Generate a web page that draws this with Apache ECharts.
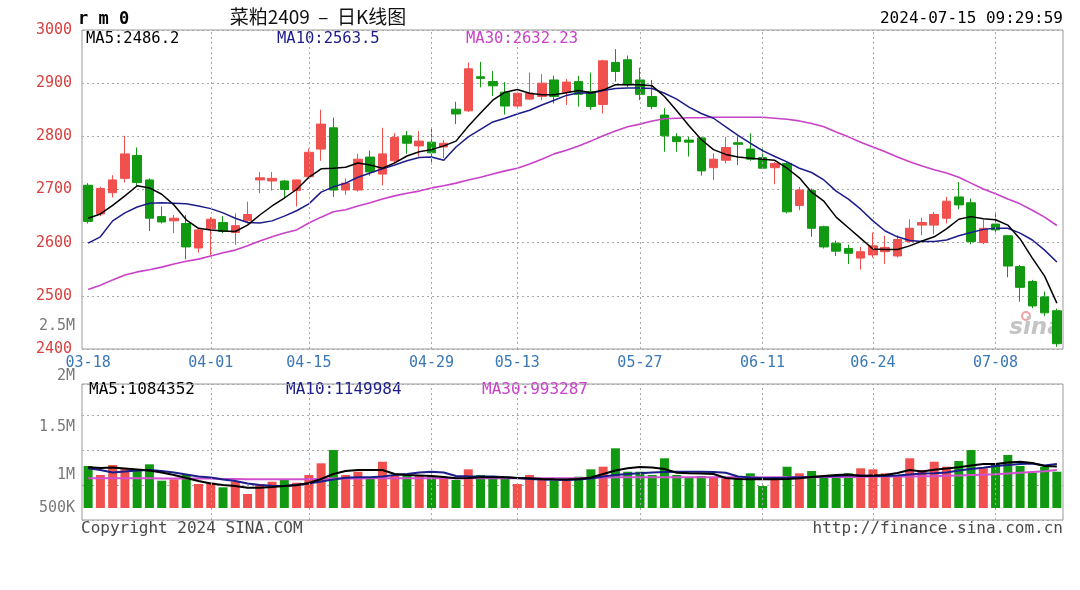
<!DOCTYPE html>
<html><head><meta charset="utf-8">
<script src="https://cdn.jsdelivr.net/npm/echarts@6/dist/echarts.min.js"></script>
<style>html,body{margin:0;padding:0;background:#fff;}#c{width:1080px;height:590px;}</style>
</head><body><div id="c"></div>
<script>
// ---------- data ----------
const dates = [
'03-18','03-19','03-20','03-21','03-22','03-25','03-26','03-27','03-28','03-29',
'04-01','04-02','04-03','04-08','04-09','04-10','04-11','04-12','04-15','04-16',
'04-17','04-18','04-19','04-22','04-23','04-24','04-25','04-26','04-29','04-30',
'05-06','05-07','05-08','05-09','05-10','05-13','05-14','05-15','05-16','05-17',
'05-20','05-21','05-22','05-23','05-24','05-27','05-28','05-29','05-30','05-31',
'06-03','06-04','06-05','06-06','06-07','06-11','06-12','06-13','06-14','06-17',
'06-18','06-19','06-20','06-21','06-24','06-25','06-26','06-27','06-28','07-01',
'07-02','07-03','07-04','07-05','07-08','07-09','07-10','07-11','07-12','07-15'];
const open  = [2708,2654,2694,2721,2764,2718,2649,2641,2636,2590, 2626,2638,2619,2641,2718,2716,2716,2698,2724,2776,
               2816,2699,2699,2761,2729,2754,2801,2782,2789,2780, 2851,2848,2912,2903,2883,2857,2870,2875,2906,2883,
               2903,2884,2860,2939,2944,2906,2875,2840,2799,2793, 2797,2741,2755,2788,2776,2760,2741,2749,2670,2698,
               2630,2599,2589,2571,2577,2583,2575,2602,2633,2633, 2646,2686,2675,2600,2635,2613,2555,2527,2498,2472];
const high  = [2712,2705,2727,2801,2779,2721,2668,2652,2652,2627, 2648,2650,2655,2677,2733,2733,2718,2719,2777,2850,
               2835,2721,2767,2773,2816,2806,2810,2810,2814,2793, 2865,2939,2940,2923,2902,2884,2920,2917,2914,2908,
               2914,2920,2944,2964,2952,2929,2906,2853,2806,2799, 2799,2768,2799,2800,2806,2780,2752,2752,2705,2702,
               2632,2604,2596,2592,2619,2613,2614,2644,2647,2658, 2686,2714,2683,2643,2658,2614,2558,2530,2508,2476];
const low   = [2636,2650,2685,2713,2707,2622,2636,2618,2569,2581, 2577,2618,2596,2636,2693,2698,2683,2668,2721,2754,
               2686,2690,2696,2726,2708,2749,2767,2762,2747,2759, 2823,2846,2892,2876,2841,2853,2868,2868,2862,2859,
               2856,2850,2843,2903,2893,2868,2851,2771,2771,2762, 2726,2718,2749,2746,2754,2739,2710,2655,2661,2611,
               2589,2575,2560,2549,2572,2560,2572,2600,2614,2616, 2636,2663,2597,2597,2616,2535,2489,2477,2462,2404];
const close = [2640,2702,2718,2767,2713,2646,2639,2646,2592,2624, 2644,2621,2632,2653,2722,2721,2700,2718,2770,2823,
               2699,2712,2757,2733,2767,2798,2787,2791,2769,2787, 2842,2927,2909,2895,2857,2881,2881,2900,2875,2902,
               2879,2856,2942,2922,2897,2879,2856,2801,2790,2789, 2735,2757,2779,2785,2757,2740,2749,2658,2699,2627,
               2592,2584,2580,2583,2594,2591,2606,2627,2638,2653, 2678,2671,2602,2627,2624,2556,2516,2481,2468,2410];
const ma5   = [2646,2654,2670,2688,2707,2703,2691,2671,2643,2627, 2624,2622,2621,2633,2652,2669,2684,2700,2723,2739,
               2740,2742,2750,2746,2740,2750,2763,2771,2775,2782, 2791,2819,2844,2868,2883,2888,2881,2878,2878,2882,
               2886,2882,2887,2897,2897,2897,2895,2875,2848,2820, 2794,2775,2766,2761,2759,2757,2755,2740,2722,2695,
               2678,2648,2628,2608,2588,2587,2587,2594,2603,2611, 2626,2644,2649,2645,2643,2633,2607,2571,2537,2486.2];
const ma10  = [2599,2611,2641,2656,2667,2674,2675,2674,2673,2669, 2664,2656,2646,2638,2637,2641,2650,2660,2673,2695,
               2705,2712,2723,2731,2739,2746,2754,2760,2761,2755, 2780,2799,2813,2827,2834,2842,2849,2859,2868,2877,
               2882,2881,2886,2890,2891,2891,2890,2881,2870,2855, 2843,2834,2818,2802,2787,2773,2762,2752,2740,2732,
               2718,2697,2682,2663,2641,2622,2611,2604,2602,2602, 2605,2613,2619,2625,2627,2627,2618,2605,2586,2563.5];
const ma30  = [2512,2520,2530,2539,2545,2549,2554,2560,2565,2569, 2575,2581,2586,2594,2603,2611,2618,2624,2637,2648,
               2658,2662,2669,2675,2682,2688,2693,2697,2703,2707, 2712,2718,2723,2729,2735,2740,2748,2757,2767,2774,
               2782,2791,2801,2810,2818,2823,2829,2833,2834,2835, 2835,2836,2836,2836,2836,2836,2834,2832,2829,2824,
               2818,2808,2799,2789,2780,2771,2761,2752,2744,2737, 2731,2723,2712,2701,2692,2682,2673,2661,2648,2632.23];
// volume in millions of lots
const volume = [1.097,0.862,1.123,1.037,0.992,1.141,0.713,0.749,0.862,0.627, 0.661,0.540,0.687,0.366,0.627,0.687,0.757,0.661,0.862,1.167,
                1.514,0.862,0.948,0.802,1.209,0.858,0.866,0.862,0.817,0.802, 0.731,1.010,0.862,0.775,0.802,0.627,0.862,0.749,0.713,0.705,
                0.817,1.010,1.078,1.559,0.948,0.948,0.862,1.298,0.862,0.802, 0.836,0.802,0.775,0.817,0.906,0.574,0.731,1.078,0.906,0.966,
                0.836,0.862,0.906,1.037,1.010,0.906,0.862,1.298,0.992,1.209, 1.078,1.227,1.514,1.037,1.167,1.384,1.097,0.922,1.078,0.948];
const volMa5  = [1.063,1.044,1.057,1.031,1.005,0.979,0.927,0.862,0.783,0.705, 0.640,0.601,0.574,0.530,0.530,0.548,0.574,0.593,0.653,0.757,
                 0.888,0.966,0.992,0.992,0.992,0.888,0.862,0.849,0.836,0.809, 0.775,0.783,0.802,0.802,0.802,0.783,0.775,0.757,0.749,0.744,
                 0.757,0.796,0.888,0.979,1.037,1.070,1.057,1.018,0.922,0.909, 0.901,0.888,0.783,0.757,0.749,0.749,0.749,0.757,0.775,0.809,
                 0.836,0.862,0.875,0.836,0.849,0.862,0.914,0.992,0.953,1.000, 1.031,1.063,1.110,1.149,1.149,1.188,1.209,1.175,1.097,1.084352];
const volMa10 = [1.037,0.992,0.927,0.953,0.979,0.992,0.966,0.927,0.875,0.822, 0.796,0.744,0.705,0.640,0.601,0.582,0.574,0.608,0.640,0.692,
                 0.744,0.791,0.802,0.802,0.822,0.862,0.888,0.927,0.948,0.927, 0.836,0.827,0.822,0.822,0.804,0.783,0.757,0.744,0.736,0.731,
                 0.744,0.770,0.822,0.862,0.888,0.906,0.927,0.940,0.948,0.948, 0.948,0.940,0.922,0.822,0.796,0.775,0.783,0.791,0.802,0.809,
                 0.822,0.836,0.854,0.849,0.836,0.836,0.849,0.875,0.901,0.906, 0.927,0.979,1.018,1.052,1.097,1.123,1.149,1.162,1.110,1.149984];
const volMa30 = [0.78,0.78,0.78,0.78,0.78,0.78,0.77,0.77,0.77,0.77, 0.77,0.76,0.76,0.75,0.75,0.75,0.75,0.75,0.75,0.76,
                 0.77,0.77,0.77,0.78,0.78,0.78,0.78,0.78,0.78,0.78, 0.78,0.78,0.78,0.78,0.78,0.78,0.78,0.78,0.78,0.78,
                 0.78,0.79,0.79,0.80,0.80,0.80,0.80,0.80,0.80,0.80, 0.80,0.80,0.80,0.80,0.80,0.80,0.80,0.80,0.80,0.80,
                 0.81,0.81,0.81,0.81,0.82,0.82,0.82,0.82,0.83,0.83, 0.84,0.85,0.86,0.87,0.88,0.90,0.92,0.94,0.96,0.993287];
const dateTicks = ['03-18','04-01','04-15','04-29','05-13','05-27','06-11','06-24','07-08'];
const priceTicks = [2400,2500,2600,2700,2800,2900,3000];
const volTicksUpper = [1.5,2,2.5];
const volTicksLower = [0.5,1];
const volTickText = {'0.5':'500K','1':'1M','1.5':'1.5M','2':'2M','2.5':'2.5M'};
const priceLegend = [['MA5:2486.2','#000000'],['MA10:2563.5','#1c1c8a'],['MA30:2632.23','#c940c9']];
const volLegend = [['MA5:1084352','#000000'],['MA10:1149984','#1c1c8a'],['MA30:993287','#c940c9']];
const titleText = '菜粕2409  –  日K线图';
const codeText = 'r m 0';
const timeText = '2024-07-15 09:29:59';

// ---------- chart ----------
const RED = '#f0504e', GREEN = '#119a11';
const MONO = "'DejaVu Sans Mono', monospace";
const L = 82, R = 17;
const kData = open.map((o, i) => [o, close[i], low[i], high[i]]);
const volData = volume.map((v, i) => ({ value: v, itemStyle: { color: close[i] >= open[i] ? RED : GREEN } }));
const vLines = dateTicks.slice(1).map(d => ({ xAxis: d }));
const gridLineStyle = { color: '#a6a6a6', type: [2, 3], width: 1 };

const chart = echarts.init(document.getElementById('c'), null, { renderer: 'canvas' });
const hiddenX = (gi) => ({ type: 'category', gridIndex: gi, data: dates, boundaryGap: true, show: false });
const option = {
  animation: false,
  backgroundColor: '#ffffff',
  grid: [
    { left: L, right: R, top: 30, height: 319, show: true, borderColor: '#999999', borderWidth: 1, backgroundColor: 'transparent' },
    { left: L, right: R, top: 384, height: 136, show: true, borderColor: '#999999', borderWidth: 1, backgroundColor: 'transparent' },
    { left: L, right: R, top: 326, height: 101 },
    { left: L, right: R, top: 475, height: 33 }
  ],
  xAxis: [
    { type: 'category', gridIndex: 0, data: dates, boundaryGap: true,
      axisLine: { show: false }, axisTick: { show: false }, splitLine: { show: false },
      axisLabel: { color: '#3a78b6', fontFamily: MONO, fontSize: 15, margin: 7,
        interval: (idx, val) => dateTicks.indexOf(val) >= 0 } },
    { type: 'category', gridIndex: 1, data: dates, boundaryGap: true,
      axisLine: { show: false }, axisTick: { show: false }, axisLabel: { show: false }, splitLine: { show: false } },
    hiddenX(2), hiddenX(3)
  ],
  yAxis: [
    { type: 'value', gridIndex: 0, min: priceTicks[0], max: priceTicks[priceTicks.length - 1],
      interval: priceTicks[1] - priceTicks[0],
      axisLine: { show: false }, axisTick: { show: false },
      axisLabel: { color: '#d9403e', fontFamily: MONO, fontSize: 15, margin: 10, formatter: v => String(v) },
      splitLine: { show: true, lineStyle: gridLineStyle } },
    { type: 'value', gridIndex: 1, min: -0.313, max: 3.238, show: false, splitLine: { show: false } },
    { type: 'value', gridIndex: 1, min: 0, max: 3.88, interval: 1,
      axisLine: { show: false }, axisTick: { show: false }, axisLabel: { show: false },
      splitLine: { show: true, lineStyle: gridLineStyle } },
    { type: 'value', gridIndex: 2, min: volTicksUpper[0], max: volTicksUpper[volTicksUpper.length - 1],
      interval: volTicksUpper[1] - volTicksUpper[0],
      axisLine: { show: false }, axisTick: { show: false }, splitLine: { show: false },
      axisLabel: { color: '#7a7a7a', fontFamily: MONO, fontSize: 15, margin: 7, formatter: v => volTickText[String(v)] || '' } },
    { type: 'value', gridIndex: 3, min: volTicksLower[0], max: volTicksLower[volTicksLower.length - 1],
      interval: volTicksLower[1] - volTicksLower[0],
      axisLine: { show: false }, axisTick: { show: false }, splitLine: { show: false },
      axisLabel: { color: '#7a7a7a', fontFamily: MONO, fontSize: 15, margin: 7, formatter: v => volTickText[String(v)] || '' } }
  ],
  series: [
    { type: 'candlestick', xAxisIndex: 0, yAxisIndex: 0, data: kData, barWidth: 9,
      itemStyle: { color: RED, color0: GREEN, borderColor: RED, borderColor0: GREEN, borderWidth: 1 },
      markLine: { silent: true, symbol: 'none', label: { show: false }, lineStyle: gridLineStyle, data: vLines, animation: false } },
    { type: 'line', xAxisIndex: 0, yAxisIndex: 0, data: ma30, showSymbol: false, symbol: 'none',
      lineStyle: { color: '#c940c9', width: 1.6 }, z: 3 },
    { type: 'line', xAxisIndex: 0, yAxisIndex: 0, data: ma10, showSymbol: false, symbol: 'none',
      lineStyle: { color: '#1c1c8a', width: 1.5 }, z: 3 },
    { type: 'line', xAxisIndex: 0, yAxisIndex: 0, data: ma5, showSymbol: false, symbol: 'none',
      lineStyle: { color: '#000000', width: 1.5 }, z: 3 },
    { type: 'bar', xAxisIndex: 1, yAxisIndex: 1, data: volData, barWidth: 9,
      markLine: { silent: true, symbol: 'none', label: { show: false }, lineStyle: gridLineStyle, data: vLines, animation: false } },
    { type: 'line', xAxisIndex: 1, yAxisIndex: 1, data: volMa30, showSymbol: false, symbol: 'none',
      lineStyle: { color: '#d050d0', width: 2 }, z: 3 },
    { type: 'line', xAxisIndex: 1, yAxisIndex: 1, data: volMa10, showSymbol: false, symbol: 'none',
      lineStyle: { color: '#1c1c8a', width: 2 }, z: 3 },
    { type: 'line', xAxisIndex: 1, yAxisIndex: 1, data: volMa5, showSymbol: false, symbol: 'none',
      lineStyle: { color: '#000000', width: 2 }, z: 3 }
  ],
  graphic: [
    { type: 'text', x: 78, y: 20, style: { text: codeText, fill: '#000', font: "bold 17px " + MONO, textVerticalAlign: 'middle' } },
    { type: 'text', x: 318, y: 17, style: { text: titleText, fill: '#111', font: "19px 'Noto Sans CJK SC', sans-serif", textAlign: 'center', textVerticalAlign: 'middle' } },
    { type: 'text', x: 1063, y: 19, style: { text: timeText, fill: '#000', font: "16px " + MONO, textAlign: 'right', textVerticalAlign: 'middle' } },
    { type: 'text', x: 86, y: 39, style: { text: priceLegend[0][0], fill: priceLegend[0][1], font: "15.5px " + MONO, textVerticalAlign: 'middle' } },
    { type: 'text', x: 277, y: 39, style: { text: priceLegend[1][0], fill: priceLegend[1][1], font: "15.5px " + MONO, textVerticalAlign: 'middle' } },
    { type: 'text', x: 466, y: 39, style: { text: priceLegend[2][0], fill: priceLegend[2][1], font: "15.5px " + MONO, textVerticalAlign: 'middle' } },
    { type: 'text', x: 89, y: 390, style: { text: volLegend[0][0], fill: volLegend[0][1], font: "16px " + MONO, textVerticalAlign: 'middle' } },
    { type: 'text', x: 286, y: 390, style: { text: volLegend[1][0], fill: volLegend[1][1], font: "16px " + MONO, textVerticalAlign: 'middle' } },
    { type: 'text', x: 482, y: 390, style: { text: volLegend[2][0], fill: volLegend[2][1], font: "16px " + MONO, textVerticalAlign: 'middle' } },
    { type: 'text', x: 81, y: 529, style: { text: 'Copyright 2024 SINA.COM', fill: '#4a4a4a', font: "16px " + MONO, textVerticalAlign: 'middle' } },
    { type: 'text', x: 1063, y: 529, style: { text: 'http://finance.sina.com.cn', fill: '#4a4a4a', font: "16px " + MONO, textAlign: 'right', textVerticalAlign: 'middle' } },
    { type: 'circle', shape: { cx: 1026, cy: 316, r: 4 }, style: { fill: 'none', stroke: '#f2a0a0', lineWidth: 2 }, z: 1 },
    { type: 'text', x: 1036, y: 328, style: { text: 'sina', fill: '#c4c4c4', font: "italic bold 23px 'DejaVu Sans', sans-serif", textAlign: 'center', textVerticalAlign: 'middle' }, z: 1 }
  ]
};
chart.setOption(option);
</script></body></html>
